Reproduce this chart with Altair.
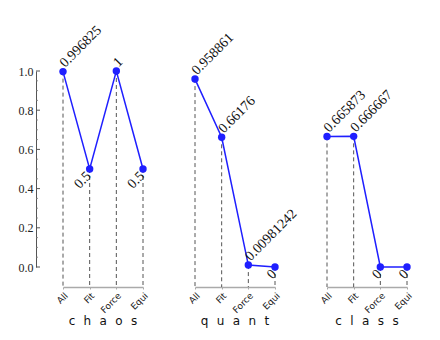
import altair as alt
import pandas as pd

categories = ["All", "Fit", "Force", "Equi"]
panels = ["chaos", "quant", "class"]
chaos_vals = [0.996825, 0.5, 1.0, 0.5]
quant_vals = [0.958861, 0.66176, 0.00981242, 0.0]
class_vals = [0.665873, 0.666667, 0.0, 0.0]
y_ticks = [0.0, 0.2, 0.4, 0.6, 0.8, 1.0]
y_minor = [0.05, 0.1, 0.15, 0.25, 0.3, 0.35, 0.45, 0.5, 0.55, 0.65, 0.7, 0.75, 0.85, 0.9, 0.95]

W, H = 80, 196
BLUE = "#1f1fff"
YOFF = 27


def make_df(vals):
    rows = []
    for i, (c, v) in enumerate(zip(categories, vals)):
        prev_v = vals[i - 1] if i > 0 else None
        next_v = vals[i + 1] if i < len(vals) - 1 else None
        below = i > 0 and (prev_v is None or v <= prev_v) and (next_v is None or v <= next_v)
        rows.append({"cat": c, "value": v, "label": f"{v:.6g}", "below": below})
    return pd.DataFrame(rows)


def panel(name, vals, show_y):
    df = make_df(vals)
    yscale = alt.Scale(domain=[0, 1], nice=False)
    x = alt.X("cat:N", sort=categories, title=None,
              scale=alt.Scale(type="point", padding=0),
              axis=alt.Axis(labelAngle=-45, labelFont="DejaVu Sans", labelFontSize=9,
                            labelColor="#222", domainColor="#aaaaaa", domainWidth=1.5,
                            tickColor="#aaaaaa", tickSize=2, offset=20, labelPadding=2,
                            grid=False))
    if show_y:
        yaxis = alt.Axis(values=y_ticks, format=".1f", offset=YOFF, labelFont="Liberation Serif",
                         labelFontSize=12, labelColor="#222", domainColor="#555",
                         ticks=False, labelPadding=3, grid=False, title=None)
    else:
        yaxis = None
    y = alt.Y("value:Q", scale=yscale, axis=yaxis, title=None)
    base = alt.Chart(df).encode(x=x, y=y)
    rules = base.mark_rule(color="#555555", strokeDash=[4, 3], strokeWidth=1).encode(
        y2=alt.value(H + 20))
    line = base.mark_line(color=BLUE, strokeWidth=1.5)
    pts = base.mark_circle(color=BLUE, opacity=1, size=55)
    above = base.transform_filter("!datum.below").mark_text(
        angle=315, align="left", baseline="alphabetic", dx=4, dy=-1,
        font="Liberation Serif", fontSize=14, color="#111").encode(text="label:N")
    below = base.transform_filter("datum.below").mark_text(
        angle=315, align="right", baseline="middle", dx=-4, dy=3,
        font="Liberation Serif", fontSize=14, color="#111").encode(text="label:N")
    layers = [rules, line, pts, above, below]
    if show_y:
        major = alt.Chart(pd.DataFrame({"t": y_ticks})).mark_rule(color="#555", strokeWidth=1).encode(
            y=alt.Y("t:Q", scale=yscale, axis=yaxis, title=None),
            x=alt.value(-YOFF), x2=alt.value(-YOFF + 4))
        minor = alt.Chart(pd.DataFrame({"t": y_minor})).mark_rule(color="#777", strokeWidth=0.8).encode(
            y=alt.Y("t:Q", scale=yscale, axis=yaxis, title=None),
            x=alt.value(-YOFF), x2=alt.value(-YOFF + 2))
        layers = [major, minor] + layers
    spaced = "\u2002\u2009".join(list(name))
    return alt.layer(*layers).properties(
        width=W, height=H,
        title=alt.TitleParams(spaced, orient="bottom", font="DejaVu Sans", fontSize=12,
                              fontWeight="normal", color="#111", offset=1))


chart = alt.hconcat(
    panel("chaos", chaos_vals, True),
    panel("quant", quant_vals, False),
    panel("class", class_vals, False),
    spacing=52, bounds="flush",
).properties(
    padding={"left": 10, "top": 15, "right": 5, "bottom": 5}
).configure_view(stroke=None)

chart.save("out.html", embed_options={"renderer": "svg", "actions": False})
